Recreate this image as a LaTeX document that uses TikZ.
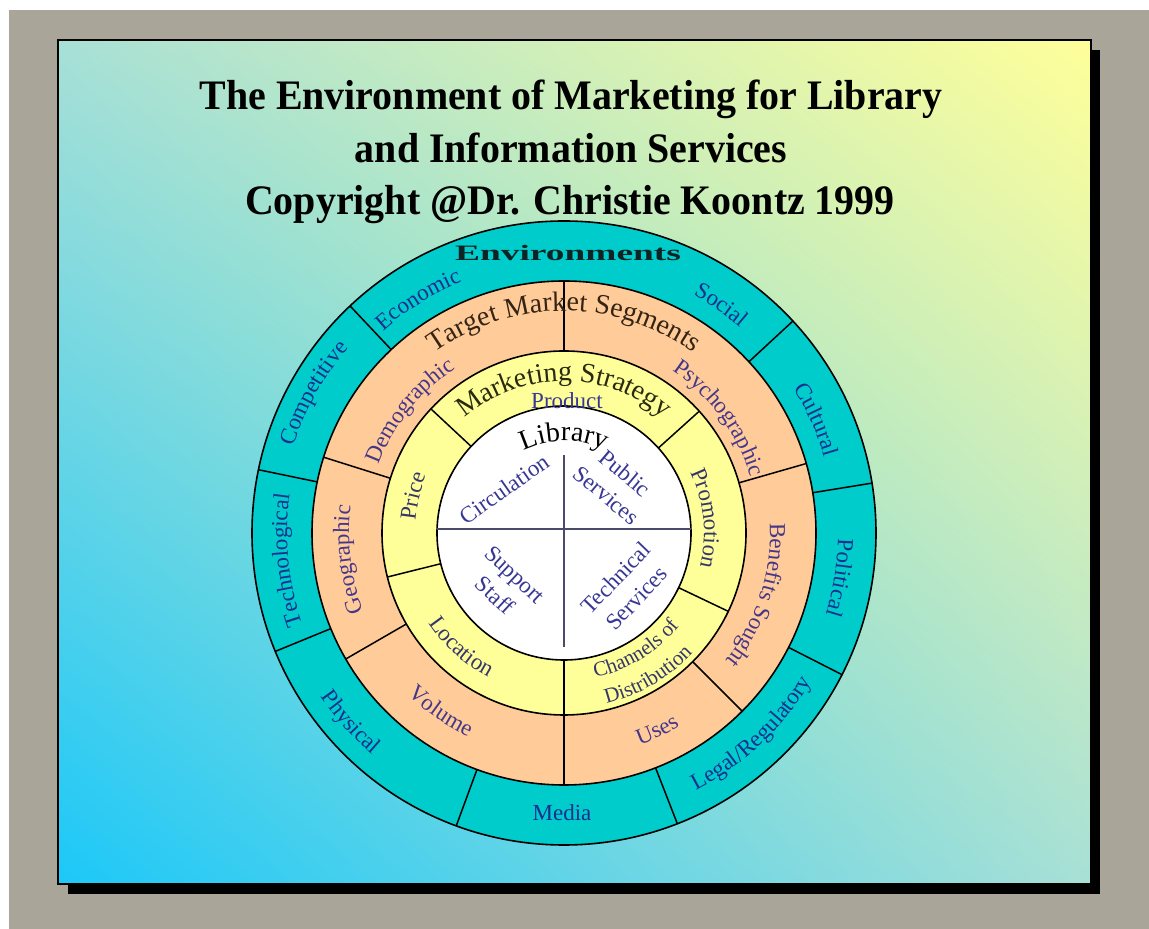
\documentclass[tikz,border=0pt]{standalone}
\usepackage{fontspec}
\setmainfont{Liberation Serif}
\usetikzlibrary{decorations.text,shadings}
\definecolor{grayb}{HTML}{A9A598}
\definecolor{teal1}{HTML}{00CCCC}
\definecolor{org1}{HTML}{FFCC99}
\definecolor{yel1}{HTML}{FFFF99}
\definecolor{bgLL}{HTML}{1CC8F8}
\definecolor{bgMid}{HTML}{A8E0D6}
\definecolor{bgUR}{HTML}{FFFF99}
\definecolor{tealtxt}{HTML}{18308E}
\definecolor{orgtxt}{HTML}{46368A}
\definecolor{yeltxt}{HTML}{36366A}
\definecolor{whtxt}{HTML}{383894}
\definecolor{crossc}{HTML}{4A4A6A}
\definecolor{tmsc}{HTML}{342414}
\definecolor{msc}{HTML}{2A2A0E}
\definecolor{envc}{HTML}{0E2424}
\newcommand\tealf{\fontsize{23}{23}\selectfont\color{tealtxt}}
\newcommand\orgf{\fontsize{23}{23}\selectfont\color{orgtxt}}
\newcommand\yelf{\fontsize{23}{23}\selectfont\color{yeltxt}}
\newcommand\chf{\fontsize{21}{21}\selectfont\color{yeltxt}}
\newcommand\whf{\fontsize{23}{29}\selectfont\color{whtxt}}
\newcommand\tmsf{\fontsize{28}{28}\selectfont\color{tmsc}}
\newcommand\msf{\fontsize{28}{28}\selectfont\color{msc}}
\newcommand\libf{\fontsize{28}{28}\selectfont\color{black}}
\newcommand\envf{\fontsize{22}{22}\selectfont\bfseries\color{envc}}
\newcommand\titlef{\fontsize{42}{42}\selectfont\bfseries}
% clockwise arc text (tops outward)
\newcommand\cwlabel[5]{\path[decorate,decoration={text along path,text align=center,text={|#1|#5}}] ({#2+#3}:#4) arc[start angle={#2+#3},end angle={#2-#3},radius=#4];}
% counter-clockwise arc text (tops inward)
\newcommand\ccwlabel[5]{\path[decorate,decoration={text along path,text align=center,text={|#1|#5}}] ({#2-#3}:#4) arc[start angle={#2-#3},end angle={#2+#3},radius=#4];}
\tikzset{ring/.style={line width=1.6pt,draw=black},
  divider/.style={line width=1.5pt,draw=black}}
\begin{document}
\begin{tikzpicture}[x=1pt,y=1pt]
\useasboundingbox (0,0) rectangle (1149,929);
\fill[white] (0,0) rectangle (1149,929);
\fill[grayb] (9,0) rectangle (1149,919);
\fill[black] (68,35) rectangle (1100,879);
\shade[lower left=bgLL, upper right=bgUR, upper left=bgMid, lower right=bgMid] (58,45) rectangle (1091,889);
\draw[black, line width=2pt] (58,45) rectangle (1091,889);
% title
\node[anchor=base, font=\titlef] (t1) at (571,819) {\scalebox{0.95}[1]{The Environment of Marketing for Library}};
\node[anchor=base, font=\titlef] (t2) at (571,766) {\scalebox{0.95}[1]{and Information Services}};
\node[anchor=base, font=\titlef] (t3) at (570,714) {\scalebox{0.95}[1]{Copyright @Dr. Christie Koontz 1999}};
\begin{scope}[shift={(564,396)}]
\fill[teal1] (0,0) circle (312);
\fill[org1] (0,0) circle (252);
\fill[yel1] (0,0) circle (182);
\fill[white] (0,0) circle (127);
\foreach \a in {133.3,168.3,202.3,249.8,291.3,333,9.2,42.8} \draw[divider] (\a:252) -- (\a:312);
\foreach \a in {90,162.5,210,270,315,16} \draw[divider] (\a:182) -- (\a:252);
\foreach \a in {137,42,334.5,270,194} \draw[divider] (\a:127) -- (\a:182);
\draw[ring] (0,0) circle (312);
\draw[ring] (0,0) circle (252);
\draw[ring] (0,0) circle (182);
\draw[ring] (0,0) circle (127);
\draw[crossc, line width=2pt] (-126.9,4) -- (126.9,4);
\draw[crossc, line width=2pt] (0,78) -- (0,-114);
% Environments header
\node[anchor=base, font=\envf, inner sep=0pt] (env) at (4,272) {\scalebox{1.7}[1]{Environments}};
% teal ring labels
\cwlabel{\tealf}{122}{40}{271}{Economic}
\cwlabel{\tealf}{55.4}{40}{271}{Social}
\cwlabel{\tealf}{24.2}{40}{271}{Cultural}
\cwlabel{\tealf}{-9.2}{40}{274}{Political}
\ccwlabel{\tealf}{-46.9}{40}{289}{Legal/Regulatory}
\node[font=\tealf] (media) at (-2,-280) {Media};
\ccwlabel{\tealf}{221.6}{40}{293}{Physical}
\cwlabel{\tealf}{185.6}{40}{277}{Technological}
\cwlabel{\tealf}{150.8}{40}{284}{Competitive}
% orange ring
\cwlabel{\tmsf}{90}{60}{222}{Target Market Segments}
\cwlabel{\orgf}{141.6}{40}{197}{Demographic}
\cwlabel{\orgf}{36.5}{40}{195}{Psychographic}
\cwlabel{\orgf}{187}{40}{215}{Geographic}
\cwlabel{\orgf}{-17.8}{45}{206}{Benefits Sought}
\ccwlabel{\orgf}{235.4}{40}{225}{Volume}
\ccwlabel{\orgf}{295.3}{40}{225}{Uses}
% yellow ring
\cwlabel{\msf}{90}{70}{152}{Marketing Strategy}
\node[font=\whf] (product) at (3,132) {Product};
\cwlabel{\yelf}{166.3}{40}{149}{Price}
\cwlabel{\yelf}{5.9}{45}{140}{Promotion}
\ccwlabel{\yelf}{228}{40}{163}{Location}
\ccwlabel{\chf}{301.7}{40}{148}{Channels of}
\ccwlabel{\chf}{300.5}{40}{176}{Distribution}
% library
\cwlabel{\libf}{90}{50}{92}{Library}
\node[rotate=35, font=\whf] (circ) at (-60,44) {Circulation};
\node[rotate=-40, font=\whf, align=center] (pub) at (52,49) {Public\\Services};
\node[rotate=-43, font=\whf, align=center] (sup) at (-59,-52) {Support\\Staff};
\node[rotate=46, font=\whf, align=center] (tech) at (62,-55) {Technical\\Services};
\end{scope}
\end{tikzpicture}
\end{document}
